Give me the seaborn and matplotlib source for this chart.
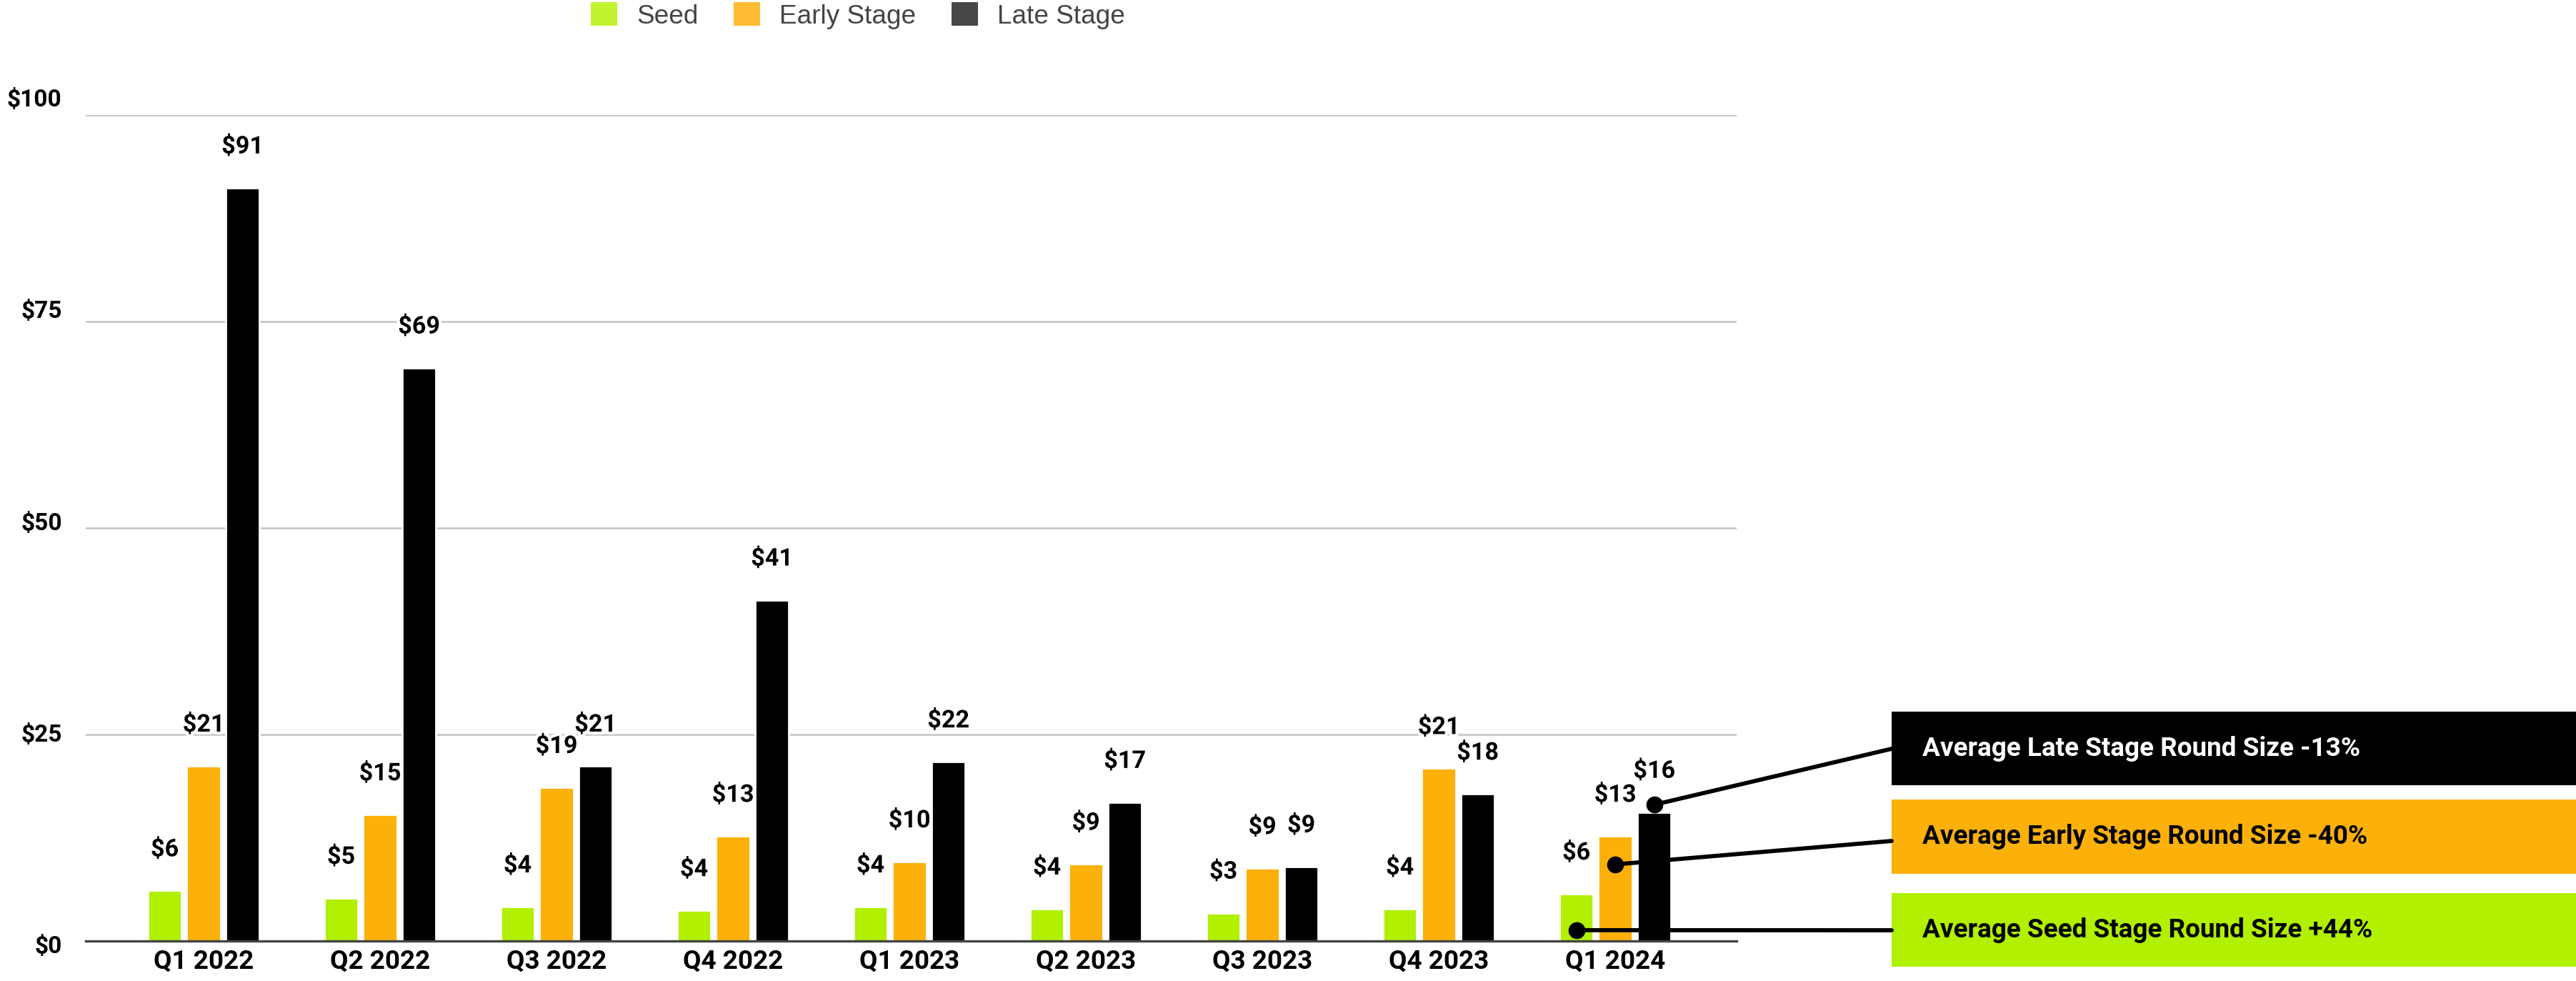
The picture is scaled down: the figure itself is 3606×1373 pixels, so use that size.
import numpy as np
import pandas as pd
import seaborn as sns
import matplotlib
matplotlib.use("Agg")
import matplotlib.pyplot as plt
from matplotlib import patheffects as pe
from matplotlib.transforms import ScaledTranslation
from matplotlib.patches import Rectangle, Patch, ConnectionPatch

# ---------------- data ----------------
quarters = ["Q1 2022", "Q2 2022", "Q3 2022", "Q4 2022", "Q1 2023",
            "Q2 2023", "Q3 2023", "Q4 2023", "Q1 2024"]
stages = ["Seed", "Early Stage", "Late Stage"]
seed = [6.1, 5.2, 4.15, 3.7, 4.15, 3.9, 3.4, 3.9, 5.7]
early = [21.2, 15.3, 18.6, 12.7, 9.6, 9.3, 8.8, 20.9, 12.7]
late = [91.2, 69.4, 21.2, 41.3, 21.7, 16.8, 9.0, 17.8, 15.6]
y_ticks = [0, 25, 50, 75, 100]
y_tick_labels = ["$0", "$25", "$50", "$75", "$100"]
callouts = ["Average Late Stage Round Size -13%",
            "Average Early Stage Round Size -40%",
            "Average Seed Stage Round Size +44%"]

bar_colors = {"Seed": "#B0F000", "Early Stage": "#FCB00A", "Late Stage": "#000000"}
legend_colors = ["#C2F22E", "#FEBA32", "#474747"]

df = pd.DataFrame({
    "Quarter": quarters * 3,
    "Stage": [s for s in stages for _ in quarters],
    "Value": seed + early + late,
})

# ---------------- figure ----------------
sns.set_theme(style="white")
plt.rcParams["font.family"] = ["Roboto", "DejaVu Sans"]

W, H, DPI = 3606, 1373, 200
fig = plt.figure(figsize=(W / DPI, H / DPI), dpi=DPI)
fig.patch.set_facecolor("white")
ax = fig.add_axes([120 / W, 56 / H, (2431 - 120) / W, (1317 - 161) / H])

sns.barplot(data=df, x="Quarter", y="Value", hue="Stage", order=quarters,
            hue_order=stages, palette=bar_colors, width=0.662, gap=0.128,
            saturation=1, errorbar=None, legend=False, ax=ax)

ax.set_xlim(-0.668, 8.688)
ax.set_ylim(0, 100)
ax.set_xlabel("")
ax.set_ylabel("")
ax.set_yticks(y_ticks)
ax.set_yticklabels(y_tick_labels)
ax.yaxis.grid(True, color="#C6C6C6", lw=0.95)
ax.xaxis.grid(False)
ax.set_axisbelow(True)
for side in ["top", "right", "left"]:
    ax.spines[side].set_visible(False)
ax.spines["bottom"].set_color("#444444")
ax.spines["bottom"].set_linewidth(1.2)
ax.set_facecolor("white")

ax.tick_params(axis="y", length=0, pad=12, labelsize=12)
ax.tick_params(axis="x", length=0, pad=4, labelsize=13.3)
for lab in ax.get_yticklabels() + ax.get_xticklabels():
    lab.set_fontweight("bold")
    lab.set_color("black")
for lab, v in zip(ax.get_yticklabels(), y_ticks):
    lab.set_transform(lab.get_transform() +
                      ScaledTranslation(0, (-5 + 0.3 * v) / DPI, fig.dpi_scale_trans))

# value labels
for cont, vals in zip(ax.containers, [seed, early, late]):
    for bar, v in zip(cont, vals):
        ax.annotate(f"${v:.0f}", (bar.get_x() + bar.get_width() / 2, bar.get_height()),
                    xytext=(0, 57 * 72 / DPI), textcoords="offset points",
                    ha="center", va="center", fontsize=12.3, fontweight="bold",
                    color="black", zorder=6,
                    path_effects=[pe.withStroke(linewidth=3, foreground="white")])

# callout boxes
boxes = [(996, 1099, "#000000", "white"),
         (1119, 1223, "#FCB00A", "black"),
         (1250, 1353, "#B0F000", "black")]
box_left = 2648
for (top, bot, fc, tc), txt in zip(boxes, callouts):
    fig.add_artist(Rectangle((box_left / W, 1 - bot / H), (W - box_left) / W,
                             (bot - top) / H, transform=fig.transFigure,
                             facecolor=fc, edgecolor="none", zorder=2))
    fig.text(2691 / W, 1 - (top + bot) / 2 / H, txt, ha="left", va="center",
             fontsize=13.3, fontweight="bold", color=tc, zorder=3)

# connectors from last-quarter bars to boxes
last = len(quarters) - 1
seed_bar = ax.containers[0][last]
early_bar = ax.containers[1][last]
late_bar = ax.containers[2][last]
anchors = [
    (late_bar.get_x() + late_bar.get_width() / 2, late_bar.get_height() + 0.9),
    (early_bar.get_x() + early_bar.get_width() / 2, early_bar.get_height() * 0.73),
    (seed_bar.get_x() + seed_bar.get_width() / 2, seed_bar.get_height() * 0.23),
]
targets_y = [1048, 1177, 1302]
for (x, y), ty in zip(anchors, targets_y):
    con = ConnectionPatch(xyA=(x, y), coordsA=ax.transData,
                          xyB=(box_left / W, 1 - ty / H), coordsB=fig.transFigure,
                          color="black", lw=2.1, zorder=7)
    fig.add_artist(con)
    ax.plot([x], [y], marker="o", ms=7.5, color="black", clip_on=False, zorder=8)

# legend
handles = [Patch(facecolor=c, edgecolor="none", label=s) for c, s in zip(legend_colors, stages)]
leg = fig.legend(handles=handles, loc="center", bbox_to_anchor=(1201 / W, 1 - 22 / H),
                 ncol=3, frameon=False, handlelength=1.0,
                 handleheight=1.0, handletextpad=0.73, columnspacing=1.35,
                 borderpad=0, prop={"family": ["Liberation Sans", "DejaVu Sans"], "size": 13.3})
for t in leg.get_texts():
    t.set_color("#444444")

fig.savefig("out.png", dpi=DPI, facecolor="white")
